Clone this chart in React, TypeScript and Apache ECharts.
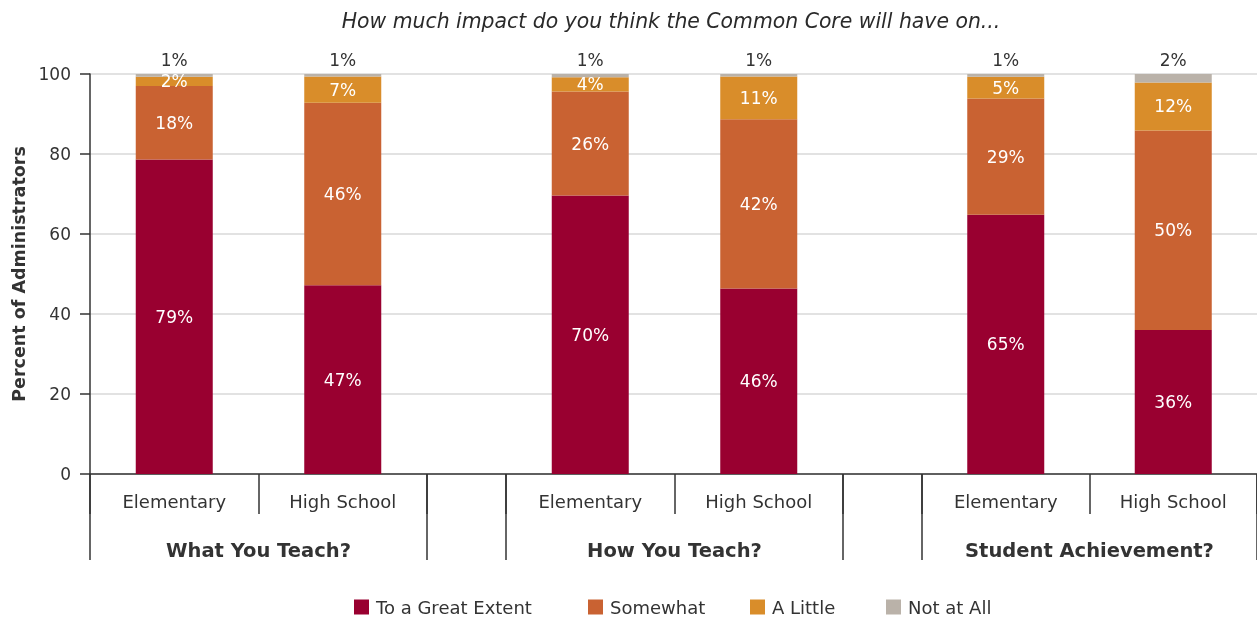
import React, { useEffect, useRef } from "react";
import * as echarts from "echarts";

const chartTitle = "How much impact do you think the Common Core will have on...";
const groups = ["What You Teach?", "How You Teach?", "Student Achievement?"];
const levels = ["Elementary", "High School"];
const seriesNames = ["To a Great Extent", "Somewhat", "A Little", "Not at All"];
const greatExtent = [78.6, 47.2, 69.6, 46.4, 64.8, 36.0];
const somewhat = [18.4, 45.6, 26.0, 42.3, 29.1, 49.9];
const aLittle = [2.3, 6.6, 3.6, 10.7, 5.4, 12.0];
const notAtAll = [0.7, 0.6, 0.8, 0.6, 0.7, 2.1];
const yAxisName = "Percent of Administrators";
const colors = ["#990030", "#C96232", "#D98D2A", "#BAB2A9"];

const FONT = "DejaVu Sans";
const TXT = "#333333";

export default function App() {
  const ref = useRef<HTMLDivElement>(null);
  useEffect(() => {
    if (!ref.current) return;
    const chart = echarts.init(ref.current, undefined, { renderer: "svg" });
    const values = [greatExtent, somewhat, aLittle, notAtAll];
    const groupLeft = [90, 506, 922];
    const groupWidth = [337, 337, 335];
    const legendLeft = [349, 583, 745, 881];
    const top = 74;
    const bottom = 144;

    const grid: any[] = [{ left: 90, right: 0, top, bottom }];
    groups.forEach((_, g) => grid.push({ left: groupLeft[g], width: groupWidth[g], top, bottom }));

    const xAxis: any[] = [
      {
        gridIndex: 0, type: "value", min: 0, max: 1,
        axisLine: { show: true, lineStyle: { color: TXT, width: 1.5 } },
        axisTick: { show: false }, axisLabel: { show: false }, splitLine: { show: false },
      },
    ];
    const yAxis: any[] = [
      {
        gridIndex: 0, type: "value", min: 0, max: 100, interval: 20,
        axisLine: { show: true, lineStyle: { color: TXT, width: 1.5 } },
        axisTick: { show: true, length: 10, lineStyle: { color: TXT, width: 1.5 } },
        axisLabel: { margin: 19, fontSize: 17, color: TXT, fontFamily: FONT },
        splitLine: { show: true, lineStyle: { color: "#d9d9d9", width: 1.5 } },
        name: yAxisName, nameLocation: "middle", nameGap: 61,
        nameTextStyle: { fontSize: 17.5, fontWeight: "bold", color: TXT, fontFamily: FONT },
      },
    ];
    groups.forEach((gName, g) => {
      xAxis.push({
        gridIndex: g + 1, type: "category", data: levels,
        axisLine: { show: false },
        axisTick: { show: true, length: 40, interval: 0, lineStyle: { color: TXT, width: 1.5 } },
        axisLabel: { margin: 18, fontSize: 18, color: TXT, fontFamily: FONT, interval: 0 },
      });
      xAxis.push({
        gridIndex: g + 1, type: "category", data: [gName], position: "bottom",
        axisLine: { show: false },
        axisTick: { show: true, length: 86, interval: 0, lineStyle: { color: TXT, width: 1.5 } },
        axisLabel: { margin: 66, fontSize: 19.5, fontWeight: "bold", color: TXT, fontFamily: FONT },
      });
      yAxis.push({ gridIndex: g + 1, type: "value", min: 0, max: 100, show: false, splitLine: { show: false } });
    });

    const series: any[] = [];
    groups.forEach((_, g) => {
      seriesNames.forEach((name, k) => {
        const isTop = k === 3;
        series.push({
          type: "bar", name, stack: "g" + g,
          xAxisIndex: 1 + 2 * g, yAxisIndex: g + 1,
          data: [values[k][2 * g], values[k][2 * g + 1]],
          barWidth: 77,
          itemStyle: { color: colors[k] },
          label: {
            show: true,
            position: isTop ? "top" : "inside",
            distance: 6,
            color: isTop ? TXT : "#ffffff",
            fontSize: 17, fontFamily: FONT,
            formatter: (p: any) => Math.round(p.value) + "%",
          },
        });
      });
    });

    const legend = seriesNames.map((name, k) => ({
      data: [name], left: legendLeft[k], top: 593, itemWidth: 15, itemHeight: 15, itemGap: 0,
      icon: "rect", textStyle: { fontSize: 18, color: TXT, fontFamily: FONT, padding: [0, 0, 0, 2] },
    }));

    chart.setOption({
      animation: false,
      textStyle: { fontFamily: FONT },
      grid, xAxis, yAxis, series, legend,
      graphic: [
        {
          type: "text", x: 671, y: 21,
          style: {
            text: chartTitle, align: "center", verticalAlign: "middle",
            fontSize: 20.4, fontStyle: "italic", fontFamily: FONT, fill: "#2a2a2a",
          },
        },
      ],
    });
    return () => chart.dispose();
  }, []);
  return <div ref={ref} style={{ position: "fixed", left: 0, top: 0, width: 1257, height: 618 }} />;
}
